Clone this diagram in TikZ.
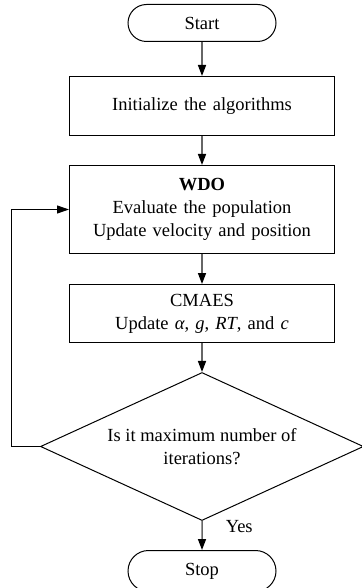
\documentclass[tikz,border=0pt]{standalone}
\usepackage{fontspec}
\setmainfont{Liberation Serif}
\usetikzlibrary{arrows.meta,positioning,shapes.geometric,shapes.misc}

\begin{document}
\begin{tikzpicture}[
  font=\fontsize{18.5}{23}\selectfont,
  node distance=29pt,
  term/.style={draw,line width=1pt,rounded rectangle,minimum width=148pt,
               minimum height=37pt,inner sep=0pt},
  proc/.style={draw,line width=1pt,text width=250pt,align=center,
               minimum width=265pt,inner sep=0pt},
  dec/.style={draw,line width=1pt,diamond,aspect=2.19,minimum width=323pt,
              minimum height=148pt,inner sep=0pt,align=center},
  arr/.style={-{Triangle[length=11pt,width=8pt,color=black]},line width=1.5pt,draw=black!60},
  back/.style={-{Triangle[length=12pt,width=8pt]},line width=1pt},
]
\useasboundingbox (0,0) rectangle (361pt,-588pt);
% Terminals and steps
\node[term] (start) at (202pt,-23pt) {Start};
\node[proc,minimum height=59pt,below=34pt of start] (init) {Initialize the algorithms};
\node[proc,minimum height=88pt,below=of init] (wdo) {\textbf{WDO}\\Evaluate the population\\Update velocity and position};
\node[proc,minimum height=58pt,below=30pt of wdo] (cmaes) {CMAES\\Update \textit{α}, \textit{g}, \textit{RT}, and \textit{c}};
% Decision
\node[dec,below=of cmaes] (check) {Is it maximum number of\\iterations?};
\node[term,minimum height=41pt,below=of check] (stop) {Stop};
% flow arrows
\draw[arr] (start) -- (init);
\draw[arr] (init) -- (wdo);
\draw[arr] (wdo) -- (cmaes);
\draw[arr] (cmaes) -- (check);
\draw[arr] (check) -- node[anchor=base west,inner sep=0pt,xshift=23pt,pos=0.41]{Yes} (stop);
% loop back
\draw[back] (check.west) -- ++(-29pt,0) |- (wdo.west);
\end{tikzpicture}
\end{document}
